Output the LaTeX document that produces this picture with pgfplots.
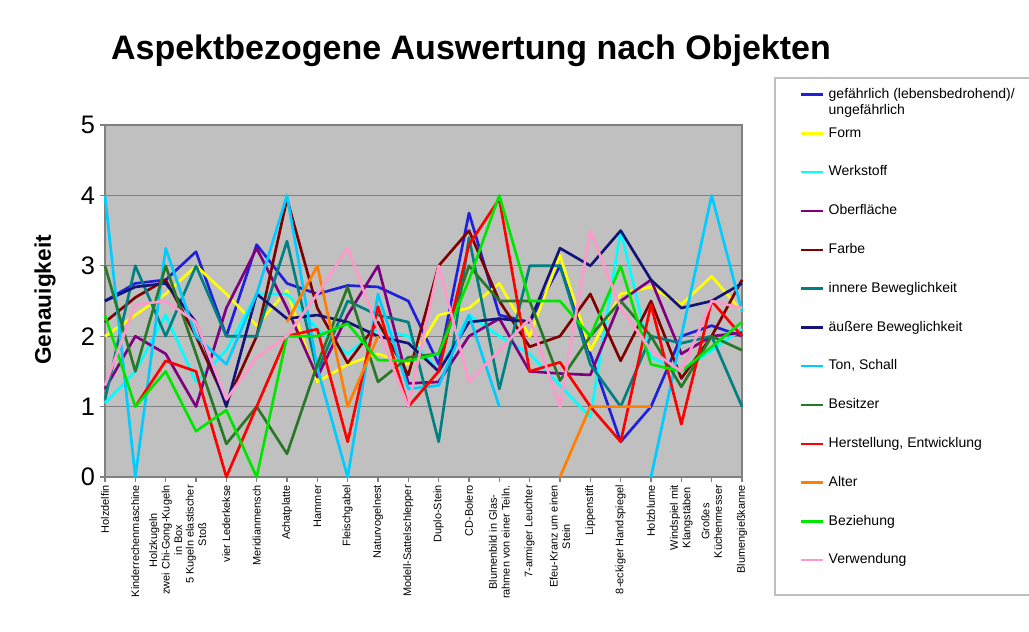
\documentclass[border=0pt]{standalone}
\usepackage{fontspec}
\setmainfont{Liberation Sans}
\usepackage{pgfplots}
\usepackage{pgfplotstable}
\pgfplotsset{compat=1.18}
\definecolor{cGef}{RGB}{32,32,220}
\definecolor{cForm}{RGB}{255,255,0}
\definecolor{cWerk}{RGB}{0,255,255}
\definecolor{cOber}{RGB}{128,0,128}
\definecolor{cFarb}{RGB}{128,0,0}
\definecolor{cInn}{RGB}{0,128,128}
\definecolor{cAus}{RGB}{20,20,120}
\definecolor{cTon}{RGB}{0,204,255}
\definecolor{cBes}{RGB}{40,120,40}
\definecolor{cHer}{RGB}{255,0,0}
\definecolor{cAlt}{RGB}{255,128,0}
\definecolor{cBez}{RGB}{0,230,0}
\definecolor{cVer}{RGB}{255,153,204}
\definecolor{bgc}{RGB}{192,192,192}
\definecolor{gridc}{RGB}{128,128,128}

\pgfplotstableread{
x gef form werk ober farb inn aus ton bes her alt bez ver
0 2.5 2.0 1.05 1.25 2.2 1.1 2.5 4.0 3.0 nan nan 2.3 1.3
1 2.75 2.3 1.5 2.0 2.55 3.0 2.7 0.0 1.5 1.0 nan 1.0 2.45
2 2.8 2.6 2.3 1.75 2.8 2.0 2.75 3.25 3.0 1.65 nan 1.5 2.5
3 3.2 3.0 1.35 1.0 2.0 3.0 2.2 2.0 1.75 1.5 nan 0.65 2.2
4 2.0 2.6 1.8 2.4 1.05 2.0 1.0 1.6 0.47 0.0 nan 0.95 1.1
5 3.3 2.15 2.6 3.25 2.0 2.0 2.6 2.6 1.0 1.0 nan 0.0 1.7
6 2.75 2.65 2.6 2.4 3.95 3.35 2.25 4.0 0.33 2.0 2.2 2.0 2.0
7 2.6 1.35 2.1 1.42 2.4 1.5 2.3 1.55 1.6 2.1 3.0 2.0 2.6
8 2.72 1.6 1.75 2.3 1.62 2.5 2.2 0.0 2.7 0.5 1.0 2.18 3.25
9 2.7 1.75 2.1 3.0 2.2 2.3 2.0 2.6 1.35 2.42 2.0 1.66 2.1
10 2.5 1.6 2.0 1.33 1.45 2.2 1.9 1.25 1.7 1.0 nan 1.65 1.0
11 1.6 2.3 1.5 1.35 3.0 0.5 1.5 1.3 1.75 1.5 nan 1.75 3.0
12 3.75 2.4 2.3 2.0 3.5 3.4 2.2 2.3 3.0 3.3 nan 2.8 1.35
13 2.3 2.75 2.0 2.25 2.5 1.25 2.25 1.0 2.5 3.95 nan 4.0 1.8
14 2.2 2.0 1.75 1.5 1.85 3.0 2.2 nan 2.5 1.5 nan 2.5 2.25
15 3.0 3.15 1.3 1.47 2.0 3.0 3.25 nan 1.37 1.63 0.0 2.5 1.0
16 1.75 1.8 0.85 1.45 2.6 1.6 3.0 nan 2.0 1.0 1.0 2.0 3.5
17 0.5 2.6 3.5 2.5 1.65 1.0 3.5 nan 2.5 0.5 1.0 3.0 2.4
18 1.0 2.7 1.7 2.8 2.5 2.0 2.8 0.0 2.0 2.45 1.0 1.6 1.8
19 2.0 2.45 1.5 1.75 1.4 1.9 2.4 2.0 1.28 0.75 nan 1.5 1.5
20 2.15 2.85 1.8 2.0 2.0 2.0 2.5 4.0 2.0 2.5 nan 1.85 2.5
21 2.0 2.35 2.1 2.05 2.8 1.0 2.75 2.35 1.8 2.0 nan 2.2 2.4
}\data

\begin{document}
\begin{tikzpicture}
\useasboundingbox (0,0) rectangle (771.75pt,474pt);
\fill[white] (0,0) rectangle (771.75pt,474pt);
\node[font=\bfseries\fontsize{25.5}{30}\selectfont, anchor=center] at (353.25pt,436pt) {Aspektbezogene Auswertung nach Objekten};
\draw[black!25, line width=0.8pt, fill=white] (581.25pt,27.75pt) rectangle (800pt,415.5pt);
\begin{axis}[
  at={(78.75pt,116.25pt)}, anchor=south west,
  scale only axis, width=477.75pt, height=264pt,
  xmin=0, xmax=21, ymin=0, ymax=5,
  clip=false,
  unbounded coords=jump,
  axis background/.style={fill=bgc},
  axis line style={draw=gridc, line width=1pt},
  ymajorgrids, grid style={draw=gridc, line width=1pt},
  tick align=outside, major tick length=4pt,
  tick style={draw=gridc, line width=0.8pt},
  xtick={0,...,21}, ytick={0,...,5},
  xtick pos=bottom, ytick pos=left,
  /pgf/number format/assume math mode=true,
  yticklabel style={font=\fontsize{19}{22}\selectfont},
  xticklabel style={font=\fontsize{8.2}{9.4}\selectfont, rotate=90, anchor=east, align=center, inner sep=2pt},
  xticklabels={Holzdelfin, Kinderrechenmaschine, {Holzkugeln\\zwei Chi-Gong-Kugeln\\in Box}, {5 Kugeln elastischer\\Stoß}, vier Lederkekse, Meridianmensch, Achatplatte, Hammer, Fleischgabel, Naturvogelnest, Modell-Sattelschlepper, Duplo-Stein, CD-Bolero, {Blumenbild in Glas-\\rahmen von einer Teiln.}, 7-armiger Leuchter, {Efeu-Kranz um einen\\Stein}, Lippenstift, 8-eckiger Handspiegel, Holzblume, {Windspiel mit\\Klangstäben}, {Großes\\Küchenmesser}, Blumengießkanne},
  ylabel={Genauigkeit},
  ylabel style={font=\bfseries\fontsize{17}{20}\selectfont, at={(axis description cs:-0.094,0.503)}, anchor=center},
  every axis plot/.append style={line width=2pt, mark=none, line join=round},
  legend image code/.code={\draw[#1, line width=1.8pt] (0pt,0pt) -- (16.5pt,0pt);},
  legend cell align=left,
  legend style={at={(rel axis cs:1.0911,1.1071)}, anchor=north west, draw=none, fill=none,
    font=\fontsize{10.5}{12}\selectfont, row sep=18.6pt, column sep=3pt, inner sep=0pt,
    nodes={inner sep=0pt, text height=8pt, text depth=2.5pt}},
]
\addplot[cGef] table[x=x,y=gef]{\data};
\addlegendentry{\smash{\vtop{\hbox{gefährlich (lebensbedrohend)/}\hbox{ungefährlich}}}}
\addplot[cForm] table[x=x,y=form]{\data};
\addlegendentry{Form}
\addplot[cWerk] table[x=x,y=werk]{\data};
\addlegendentry{Werkstoff}
\addplot[cOber] table[x=x,y=ober]{\data};
\addlegendentry{Oberfläche}
\addplot[cFarb] table[x=x,y=farb]{\data};
\addlegendentry{Farbe}
\addplot[cInn] table[x=x,y=inn]{\data};
\addlegendentry{innere Beweglichkeit}
\addplot[cAus] table[x=x,y=aus]{\data};
\addlegendentry{äußere Beweglichkeit}
\addplot[cTon] table[x=x,y=ton]{\data};
\addlegendentry{Ton, Schall}
\addplot[cBes] table[x=x,y=bes]{\data};
\addlegendentry{Besitzer}
\addplot[cHer] table[x=x,y=her]{\data};
\addlegendentry{Herstellung, Entwicklung}
\addplot[cAlt] table[x=x,y=alt]{\data};
\addlegendentry{Alter}
\addplot[cBez] table[x=x,y=bez]{\data};
\addlegendentry{Beziehung}
\addplot[cVer] table[x=x,y=ver]{\data};
\addlegendentry{Verwendung}
\end{axis}
\end{tikzpicture}
\end{document}
